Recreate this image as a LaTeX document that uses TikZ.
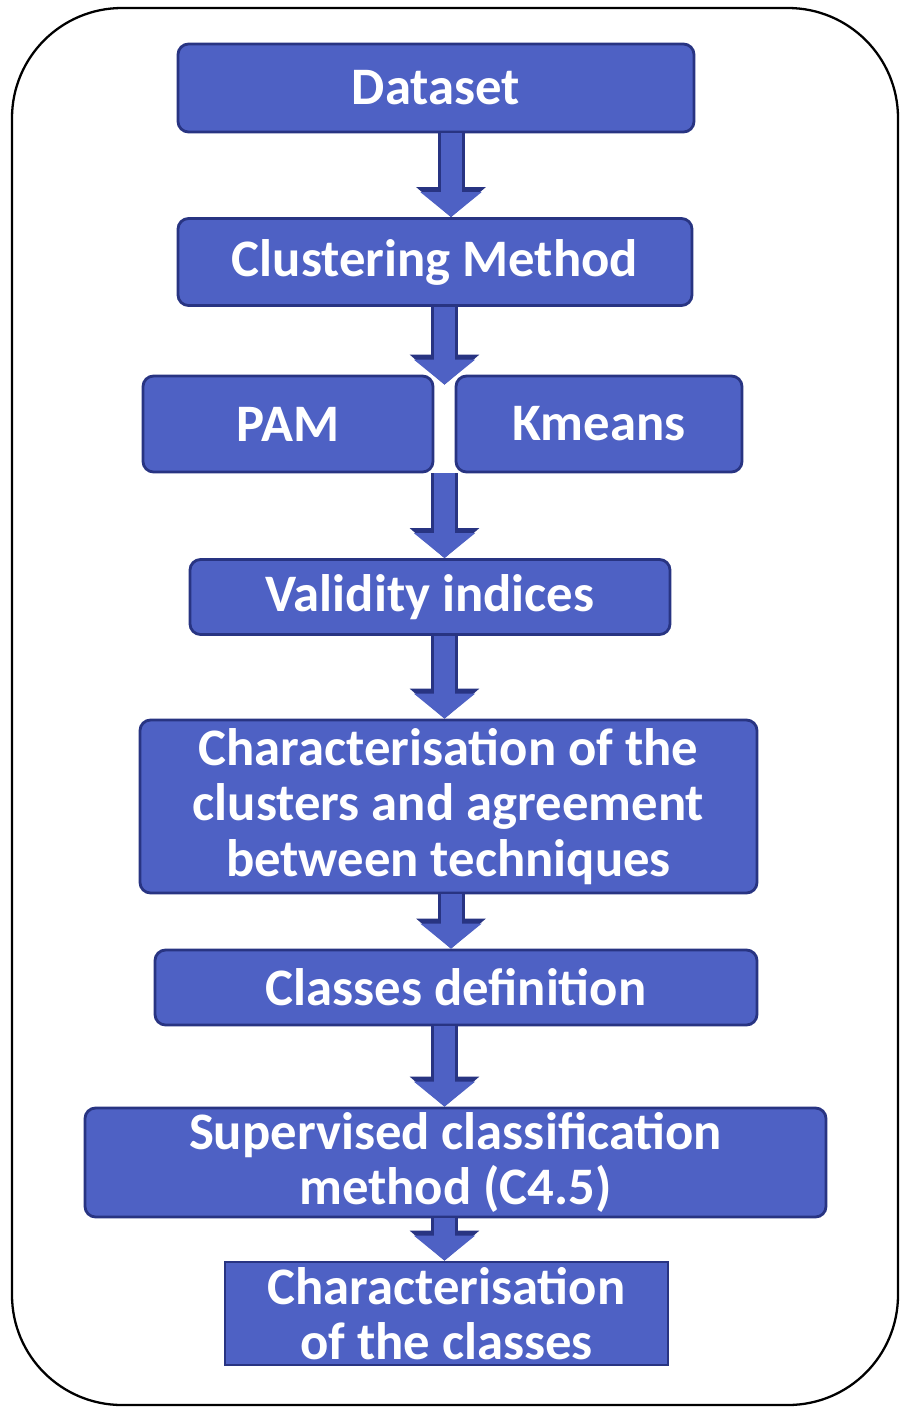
\documentclass[tikz,border=0pt]{standalone}
\usepackage{fontspec}
\setmainfont{Carlito}
\usetikzlibrary{arrows.meta, calc}
\definecolor{boxblue}{RGB}{78,97,196}
\definecolor{boxedge}{RGB}{40,52,130}
\begin{document}
\begin{tikzpicture}[
  frame/.style={rectangle, draw=black, line width=1.3pt, rounded corners=2.2cm},
  stepbox/.style={rectangle, draw=boxedge, line width=1.6pt, rounded corners=6pt, fill=boxblue, text=white, font=\fontsize{30}{31.5}\selectfont\bfseries, align=center, inner sep=0pt},
  flatbox/.style={stepbox, rounded corners=0pt},
  flow/.style={-{Triangle[length=0.5cm, width=1.2cm]}, line width=0.42cm, draw=boxblue,
    preaction={draw=boxedge, line width=0.54cm, -{Triangle[length=0.6cm, width=1.36cm]}}}
]
\useasboundingbox (0,0) rectangle (18.16,-28.22);
\node[frame, minimum width=17.72cm, minimum height=27.94cm] (border) at (9.1,-14.13) {};
\coordinate (axis) at (9.02,0);
\node[stepbox, minimum width=10.32cm, minimum height=1.76cm] (dataset) at (8.72,-1.76) {Dataset};
\node[stepbox, minimum width=10.28cm, minimum height=1.74cm] (cluster) at (8.70,-5.24) {Clustering Method};
\node[stepbox, minimum width=5.80cm, minimum height=1.92cm] (pam) at (5.76,-8.48) {PAM};
\node[stepbox, minimum width=5.72cm, minimum height=1.92cm] (kmeans) at (11.98,-8.48) {Kmeans};
\node[stepbox, minimum width=9.60cm, minimum height=1.50cm] (validity) at (8.60,-11.94) {Validity indices};
\node[stepbox, minimum width=12.34cm, minimum height=3.46cm] (charclust) at (8.97,-16.13) {Characterisation of the\\clusters and agreement\\between techniques};
\node[stepbox, minimum width=12.04cm, minimum height=1.50cm] (classes) at (9.12,-19.75) {Classes definition};
\node[stepbox, minimum width=14.82cm, minimum height=2.18cm] (supervised) at (9.11,-23.25) {Supervised classification\\method (C4.5)};
\node[flatbox, minimum width=8.86cm, minimum height=2.06cm] (charclass) at (8.93,-26.27) {Characterisation\\of the classes};
\coordinate (splittop) at ($(pam.north east)!0.5!(kmeans.north west)+(0,-0.2)$);
\coordinate (splitbot) at ($(pam.south east)!0.5!(kmeans.south west)$);
\draw[flow] (dataset.south -| axis) -- (cluster.north -| axis);
\draw[flow] (cluster.south -| splittop) -- (splittop);
\draw[flow] (splitbot) -- (validity.north -| splitbot);
\draw[flow] (validity.south -| splitbot) -- (charclust.north -| splitbot);
\draw[flow] (charclust.south -| axis) -- (classes.north -| axis);
\draw[flow] (classes.south -| splitbot) -- (supervised.north -| splitbot);
\draw[flow] (supervised.south -| splitbot) -- (charclass.north -| splitbot);
\end{tikzpicture}
\end{document}
